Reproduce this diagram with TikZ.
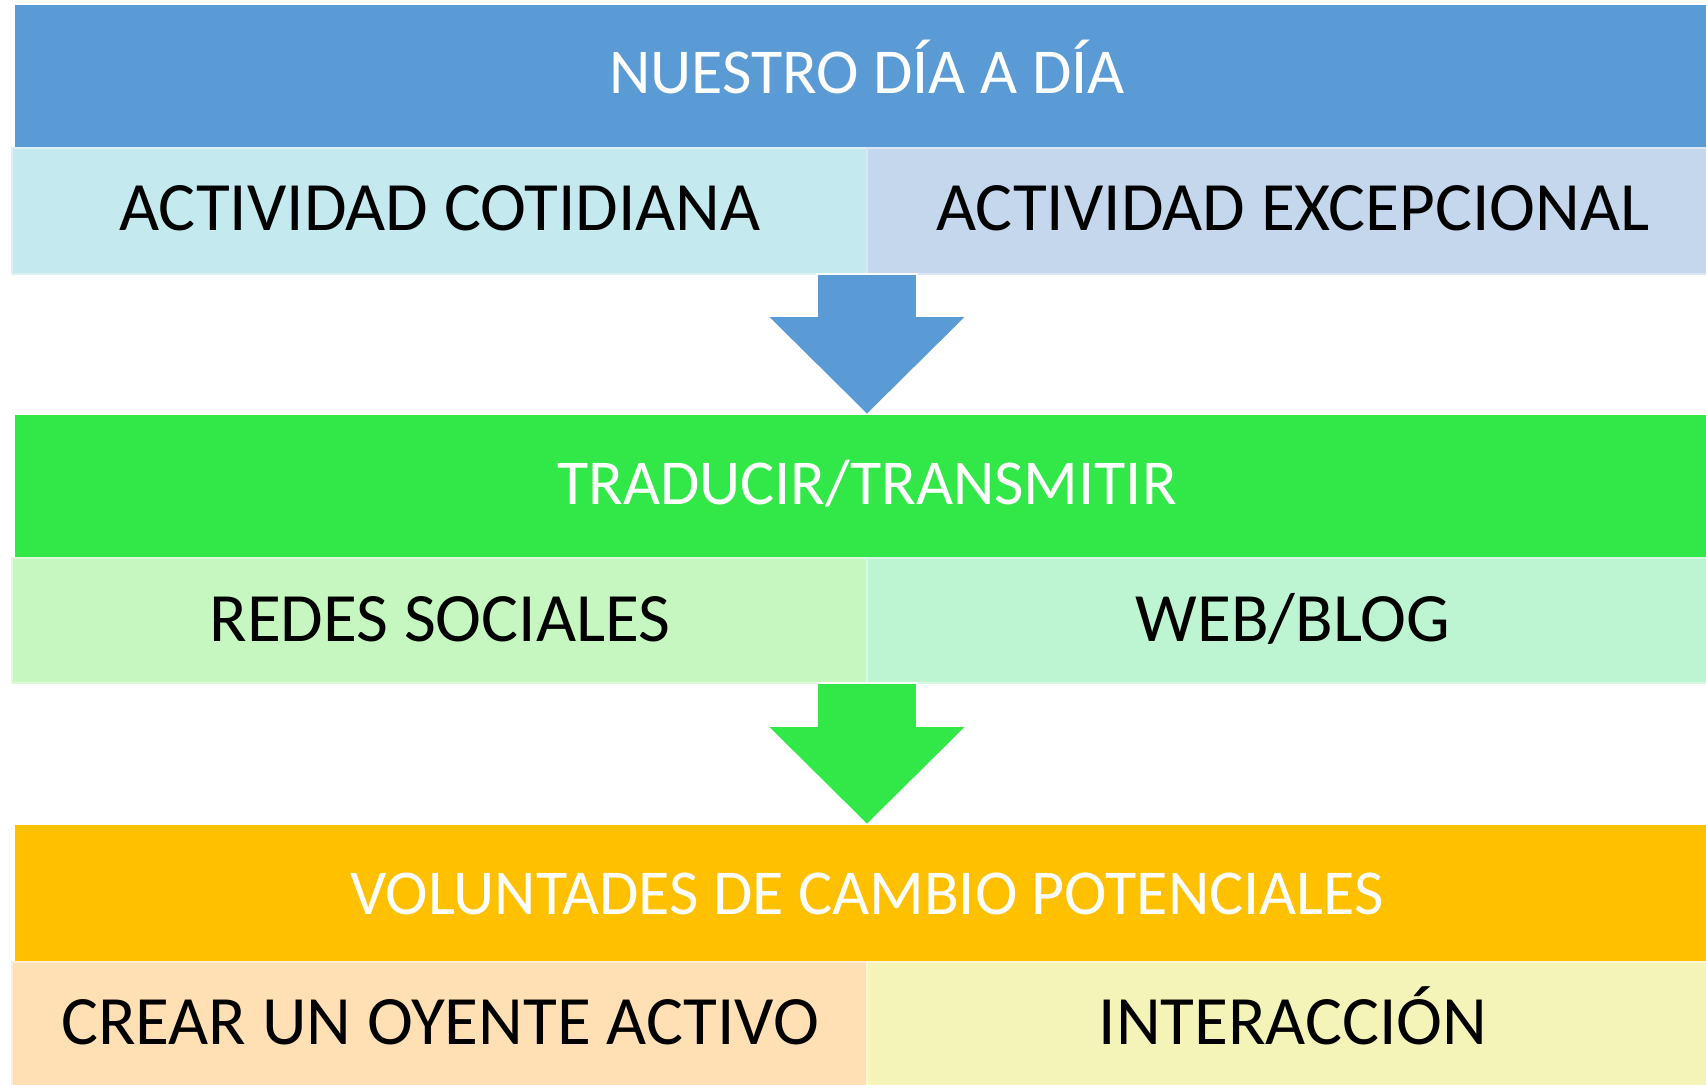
\documentclass[tikz,border=0pt]{standalone}
\usepackage{fontspec}
\setmainfont{Carlito}
\definecolor{diablue}{HTML}{5B9BD5}
\definecolor{cotcyan}{HTML}{C4E9EE}
\definecolor{excblue}{HTML}{C4D7EC}
\definecolor{tragreen}{HTML}{31E848}
\definecolor{redgreen}{HTML}{C6F7C0}
\definecolor{webgreen}{HTML}{BDF4D1}
\definecolor{volorange}{HTML}{FFC000}
\definecolor{oyepeach}{HTML}{FFE0B4}
\definecolor{intyellow}{HTML}{F4F4B8}
\tikzset{
  bartext/.style={white,anchor=base,font=\fontsize{18.2}{22}\selectfont},
  subtext/.style={black,anchor=base,font=\fontsize{19.7}{24}\selectfont},
  subbox/.style={fill=#1,draw=#1!60!white,line width=0.3pt}
}
\begin{document}
\begin{tikzpicture}[x=0.01cm,y=-0.01cm]
\clip (0,0) rectangle (1706,1085);
\fill[white] (0,0) rectangle (1706,1085);
% first block
\fill[diablue] (15,5) rectangle (1720,148);
\node[bartext] (dia) at (867,94) {NUESTRO DÍA A DÍA};
\draw[subbox=cotcyan] (12,148) rectangle (867,274);
\draw[subbox=excblue] (867,148) rectangle (1720,274);
\node[subtext] (cot) at (440,231) {ACTIVIDAD COTIDIANA};
\node[subtext] (exc) at (1293,231) {ACTIVIDAD EXCEPCIONAL};
\filldraw[diablue,draw=white,line width=0.5pt]
  (817,274) -- (917,274) -- (917,316) -- (967,316) -- (867,415)
  -- (767,316) -- (817,316) -- cycle;
% second block
\fill[tragreen] (15,415) rectangle (1720,558);
\node[bartext] (tra) at (867,504) {TRADUCIR/TRANSMITIR};
\draw[subbox=redgreen] (12,558) rectangle (867,683);
\draw[subbox=webgreen] (867,558) rectangle (1720,683);
\node[subtext] (red) at (440,641) {REDES SOCIALES};
\node[subtext] (web) at (1293,641) {WEB/BLOG};
\filldraw[tragreen,draw=white,line width=0.5pt]
  (817,683) -- (917,683) -- (917,726) -- (967,726) -- (867,825)
  -- (767,726) -- (817,726) -- cycle;
% third block
\fill[volorange] (15,825) rectangle (1720,962);
\node[bartext] (vol) at (867,914) {VOLUNTADES DE CAMBIO POTENCIALES};
\draw[subbox=oyepeach] (12,962) rectangle (867,1090);
\draw[subbox=intyellow] (867,962) rectangle (1720,1090);
\node[subtext] (oye) at (440,1044) {CREAR UN OYENTE ACTIVO};
\node[subtext] (int) at (1293,1044) {INTERACCIÓN};
\end{tikzpicture}
\end{document}
